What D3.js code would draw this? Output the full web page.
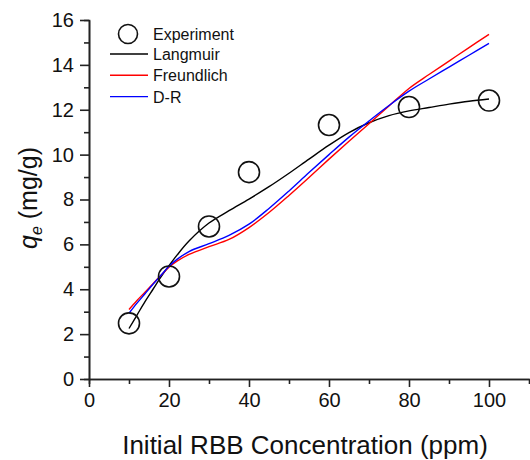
<!DOCTYPE html>
<html>
<head>
<meta charset="utf-8">
<script src="https://cdn.jsdelivr.net/npm/d3@7"></script>
<style>
  body { margin: 0; background: #fff; }
  svg { font-family: Arial, "Liberation Sans", sans-serif; }
</style>
</head>
<body>
<div id="chart"></div>
<script>
const expX = [10, 20, 30, 40, 60, 80, 100];
const expY = [2.48, 4.57, 6.8, 9.22, 11.32, 12.12, 12.41];

const fitX = [10, 12, 14, 16, 18, 20, 22, 25, 30, 35, 40, 45, 50, 55, 60, 65, 70, 75, 80, 85, 90, 95, 100];
const langmuir = [2.25, 2.85, 3.45, 4.0, 4.55, 5.05, 5.52, 6.15, 6.95, 7.5, 8.02, 8.57, 9.17, 9.8, 10.42, 10.98, 11.42, 11.74, 11.95, 12.1, 12.25, 12.38, 12.48];
const freundlich = [3.1, 3.5, 3.87, 4.25, 4.62, 4.98, 5.25, 5.55, 5.9, 6.22, 6.75, 7.42, 8.18, 8.98, 9.8, 10.6, 11.38, 12.17, 12.95, 13.57, 14.17, 14.77, 15.36];
const dr = [2.93, 3.38, 3.8, 4.22, 4.62, 5.02, 5.33, 5.68, 6.03, 6.4, 6.9, 7.6, 8.38, 9.2, 10.0, 10.78, 11.5, 12.19, 12.83, 13.37, 13.9, 14.43, 14.96];

const series = [
  {name: 'Langmuir', values: langmuir, color: '#000'},
  {name: 'Freundlich', values: freundlich, color: '#ff0000'},
  {name: 'D-R', values: dr, color: '#0000ff'}
];

const width = 530, height = 460;
const padLeft = 89, padTop = 20, plotW = 440, plotH = 359;

const xScale = d3.scaleLinear().domain([0, 110]).range([padLeft, padLeft + plotW]);
const yScale = d3.scaleLinear().domain([0, 16]).range([padTop + plotH, padTop]);

const svg = d3.select('#chart').append('svg')
  .attr('width', width).attr('height', height);

// minor ticks
const xMinor = d3.axisBottom(xScale).tickValues(d3.range(10, 110, 20)).tickSize(5).tickFormat('');
const yMinor = d3.axisLeft(yScale).tickValues(d3.range(1, 16, 2)).tickSize(5).tickFormat('');

svg.append('g').attr('class', 'axis').attr('transform', `translate(0,${padTop + plotH})`).call(xMinor);
svg.append('g').attr('class', 'axis').attr('transform', `translate(${padLeft},0)`).call(yMinor);

const xAxis = d3.axisBottom(xScale).tickValues(d3.range(0, 101, 20)).tickSize(8).tickPadding(6).tickSizeOuter(0);
const yAxis = d3.axisLeft(yScale).tickValues(d3.range(0, 17, 2)).tickSize(9).tickPadding(6).tickSizeOuter(0);

svg.append('g').attr('class', 'axis').attr('transform', `translate(0,${padTop + plotH})`).call(xAxis);
svg.append('g').attr('class', 'axis').attr('transform', `translate(${padLeft},0)`).call(yAxis);

svg.selectAll('.axis path, .axis line').attr('stroke', '#222').attr('stroke-width', 1.6);
svg.selectAll('.axis text').attr('font-size', 20).attr('fill', '#111')
  .attr('font-family', 'Arial, "Liberation Sans", sans-serif');

// curves
const line = d3.line()
  .x((d, i) => xScale(fitX[i]))
  .y(d => yScale(d))
  .curve(d3.curveCatmullRom);

svg.selectAll('.fit')
  .data(series).enter()
  .append('path')
  .attr('class', 'fit')
  .attr('d', d => line(d.values))
  .attr('fill', 'none')
  .attr('stroke', d => d.color)
  .attr('stroke-width', 1.4);

// experiment points
svg.selectAll('.dot')
  .data(expX).enter()
  .append('circle')
  .attr('class', 'dot')
  .attr('cx', d => xScale(d))
  .attr('cy', (d, i) => yScale(expY[i]))
  .attr('r', 10.5)
  .attr('fill', 'none')
  .attr('stroke', '#111')
  .attr('stroke-width', 1.6);

// axis titles
svg.append('text')
  .attr('x', 305).attr('y', 454)
  .attr('text-anchor', 'middle')
  .attr('font-size', 26)
  .attr('fill', '#111')
  .text('Initial RBB Concentration (ppm)');

const yTitle = svg.append('text')
  .attr('transform', 'translate(37,198) rotate(-90)')
  .attr('text-anchor', 'middle')
  .attr('font-size', 25)
  .attr('fill', '#111');
yTitle.append('tspan').attr('font-style', 'italic').text('q');
yTitle.append('tspan').attr('font-style', 'italic').attr('font-size', 16).attr('dy', 5).text('e');
yTitle.append('tspan').attr('dy', -5).text(' (mg/g)');

// legend
const legend = svg.append('g').attr('id', 'legend');
legend.append('circle')
  .attr('cx', 128).attr('cy', 34).attr('r', 9.5)
  .attr('fill', 'none').attr('stroke', '#111').attr('stroke-width', 1.6);
legend.append('text').attr('x', 153).attr('y', 39.5)
  .attr('font-size', 16).attr('fill', '#111').text('Experiment');

const rows = legend.selectAll('.legend-row')
  .data(series).enter()
  .append('g')
  .attr('class', 'legend-row')
  .attr('transform', (d, i) => `translate(0, ${54 + i * 21.3})`);

rows.append('line')
  .attr('x1', 110).attr('x2', 148)
  .attr('stroke', d => d.color).attr('stroke-width', 1.4);
rows.append('text')
  .attr('x', 153).attr('y', 6)
  .attr('font-size', 16).attr('fill', '#111')
  .text(d => d.name);
</script>
</body>
</html>
